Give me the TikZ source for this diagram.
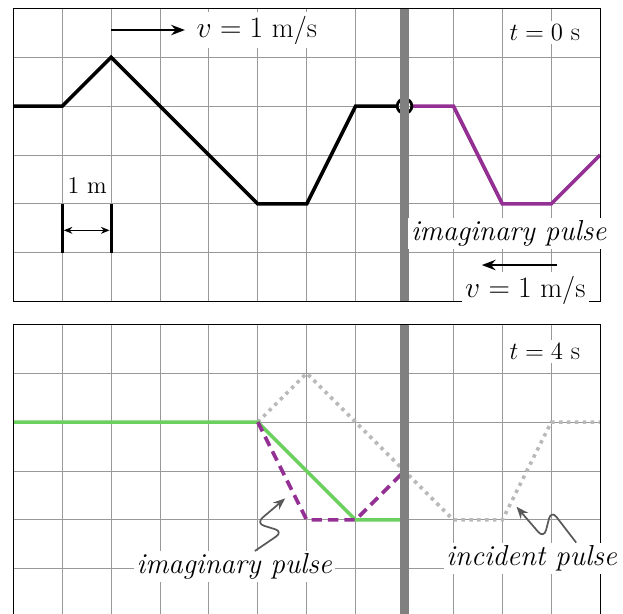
\documentclass[tikz,border=0pt]{standalone}
\usepackage{xcolor}
\definecolor{wvpurple}{RGB}{148,48,148}
\definecolor{wvgreen}{RGB}{108,208,96}
\definecolor{wvgrey}{RGB}{185,185,185}
\definecolor{wvwall}{RGB}{128,128,128}
\usetikzlibrary{arrows.meta,positioning,calc}

\begin{document}
\begin{tikzpicture}[
  gridline/.style={black!40, line width=0.55pt},
  frame/.style={draw=black, line width=0.7pt},
  wall/.style={wvwall, line width=5pt},
  pulse/.style={line width=2.1pt, line join=miter},
  lbl/.style={fill=white, inner sep=2pt, font=\fontsize{15}{18}\selectfont},
  vlbl/.style={lbl, font=\fontsize{16.5}{19}\selectfont},
  ilbl/.style={fill=white, inner sep=1.5pt, font=\fontsize{16.8}{20}\selectfont\itshape},
  varrow/.style={-{Stealth[length=8pt,width=6pt]}, line width=1.3pt},
  callout/.style={-{Stealth[length=7pt,width=5.5pt]}, black!65, line width=1pt, rounded corners=5pt}
]
\useasboundingbox (-0.272,-6.366) rectangle (12.468,6.17);
\clip (-0.272,-6.366) rectangle (12.468,6.17);

% t = 0
\draw[gridline] (0,0) grid (12,6);
\draw[pulse] (0,4) -- (1,4) -- (2,5) -- (5,2) -- (6,2) -- (7,4) -- (7.85,4);
\draw[pulse, wvpurple] (8.15,4) -- (9,4) -- (10,2) -- (11,2) -- (12,3);
\draw[line width=1.6pt] (8,4) circle (0.15);
\draw[wall] (8,0) -- (8,6);
\draw[frame] (0,0) rectangle (12,6);

\coordinate (vtail) at (2,5.556);
\coordinate (vhead) at (3.51,5.556);
\draw[varrow] (vtail) -- (vhead);
\node[vlbl] (vtop) at (4.98,5.556) {$v = 1$ m/s};
\node[lbl] (tzero) at (10.87,5.51) {$t = 0$ s};

\node[lbl, font=\fontsize{14}{17}\selectfont] (onem) at (1.51,2.38) {1 m};
\draw[line width=1.8pt] (1,1) -- (1,2);
\draw[line width=1.8pt] (2,1) -- (2,2);
\coordinate (dimL) at (1,1.46);
\coordinate (dimR) at (2,1.46);
\draw[{Stealth[length=5pt,width=4pt]}-{Stealth[length=5pt,width=4pt]}, line width=0.9pt, shorten <=0.9pt, shorten >=0.9pt] (dimL) -- (dimR);

\node[ilbl] (imgtop) at (10.13,1.40) {imaginary pulse};
\coordinate (vbtail) at (11.11,0.75);
\coordinate (vbhead) at (9.58,0.75);
\draw[varrow] (vbtail) -- (vbhead);
\node[vlbl] (vbot) at (10.47,0.24) {$v = 1$ m/s};

% t = 4
\begin{scope}[yshift=-6.462cm]
\draw[gridline] (0,0) grid (12,6);
\draw[pulse, wvgrey, dash pattern=on 2pt off 2.6pt] (5,4) -- (6,5) -- (9,2) -- (10,2) -- (11,4) -- (12,4);
\draw[pulse, wvgreen] (0,4) -- (5,4) -- (7,2) -- (8,2);
\draw[pulse, wvpurple, dash pattern=on 6pt off 3.5pt] (5,4) -- (6,2) -- (7,2) -- (8,3);
\draw[wall] (8,0) -- (8,6);
\draw[frame] (0,0) rectangle (12,6);

\node[lbl] (tfour) at (10.87,5.44) {$t = 4$ s};
\node[ilbl] (imgbot) at (4.52,1.04) {imaginary pulse};
\node[ilbl] (incbot) at (10.6,1.215) {incident pulse};
\coordinate (imgtip) at (5.56,2.44);
\coordinate (inctip) at (10.29,2.27);
\draw[callout] ([xshift=0.42cm]imgbot.north) -- (5.52,1.76) -- (4.96,1.93) -- (imgtip);
\draw[callout] ([xshift=0.91cm]incbot.north) -- (11.0,2.2) -- (10.85,1.62) -- (inctip);
\end{scope}
\end{tikzpicture}
\end{document}
